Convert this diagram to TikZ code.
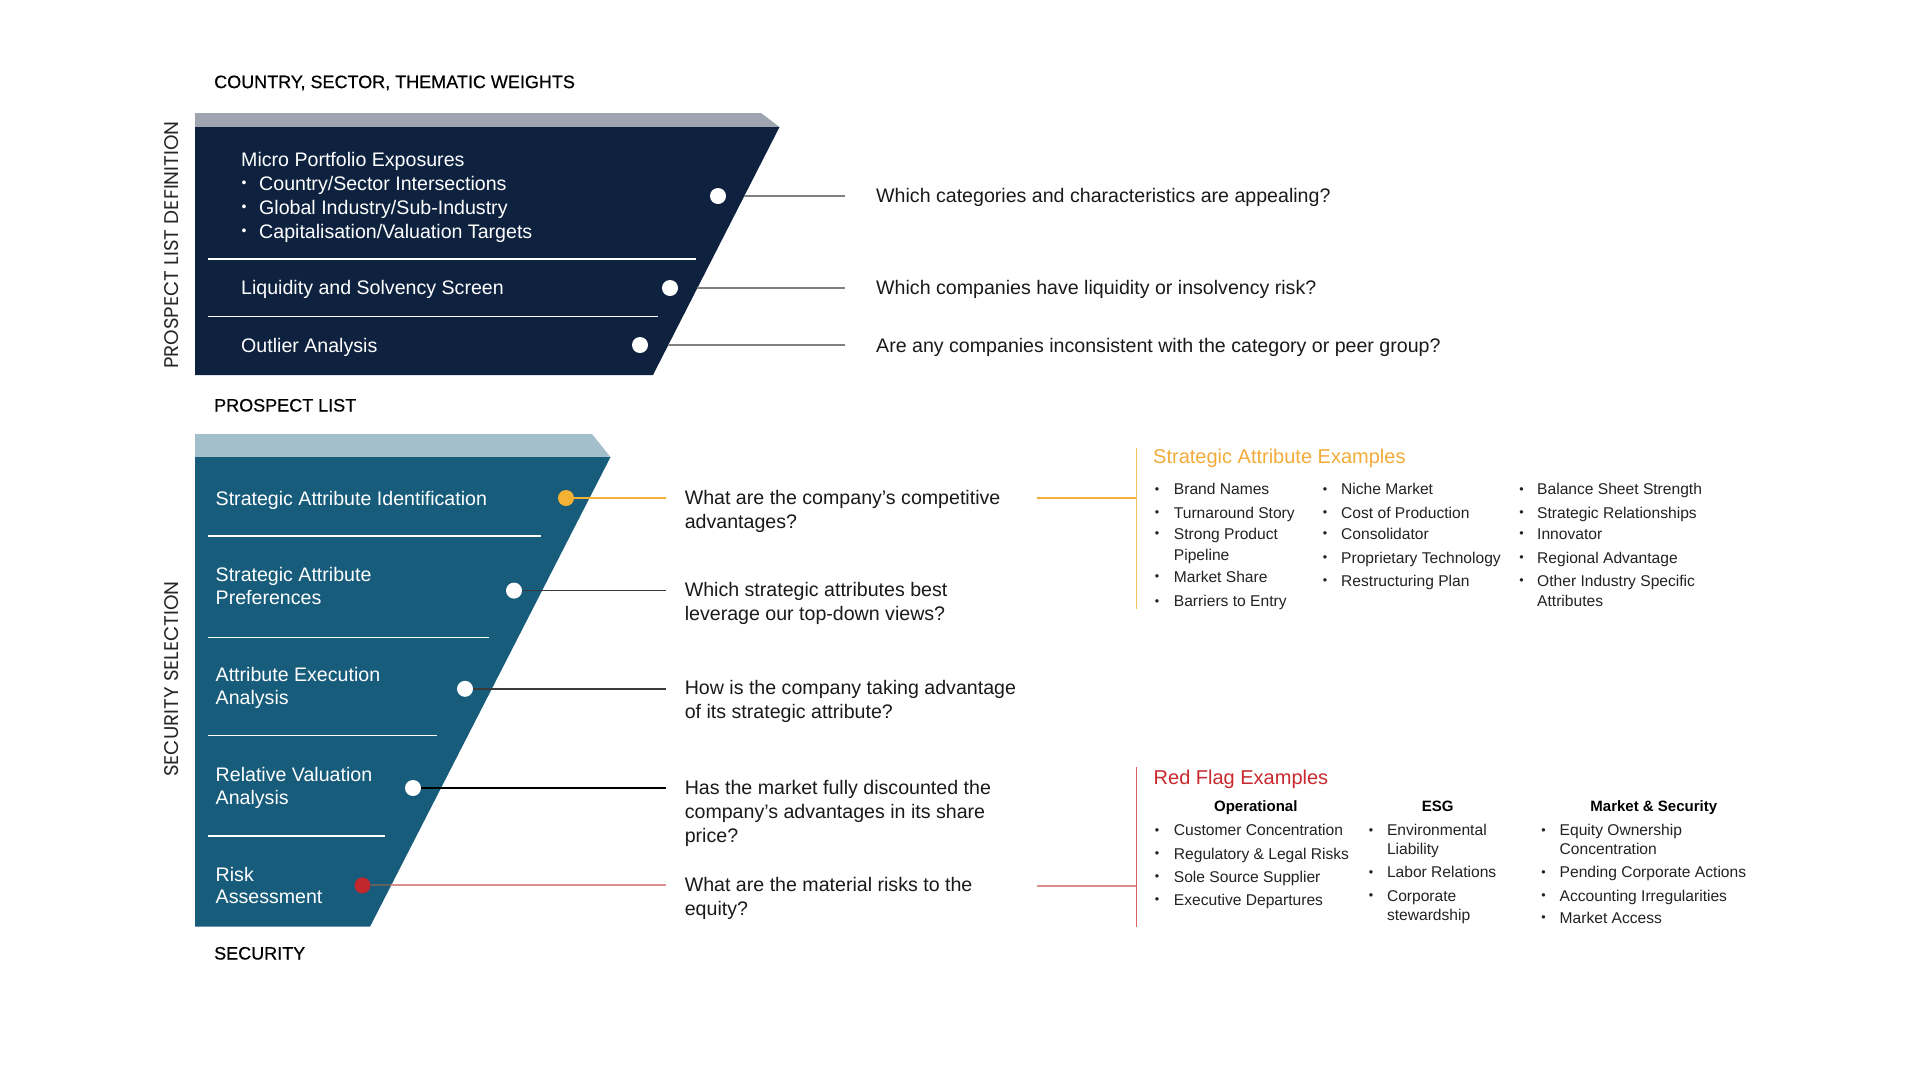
\documentclass[tikz,border=0pt]{standalone}
\usepackage{fontspec}
\setmainfont{Liberation Sans}
\newfontfamily\popfont{Poppins}
\newfontfamily\medfont[FakeBold=0.5]{Liberation Sans}
\definecolor{cNavy}{HTML}{0E2240}
\definecolor{cBandGray}{HTML}{9EA5B0}
\definecolor{cTeal}{HTML}{175C7B}
\definecolor{cBandBlue}{HTML}{A3BFCB}
\definecolor{cOrange}{HTML}{F4B133}
\definecolor{cOrangeLine}{HTML}{F7C25A}
\definecolor{cOrangeHead}{HTML}{F2AC3A}
\definecolor{cRedDot}{HTML}{C1272D}
\definecolor{cRedHead}{HTML}{C8282E}
\definecolor{cPink}{HTML}{DB8E8E}
\definecolor{cRedLine}{HTML}{D66363}
\definecolor{cGrayLine}{HTML}{808080}
\definecolor{cDarkLine}{HTML}{3A3A3A}
\definecolor{cQ}{HTML}{1A1A1A}
\definecolor{cList}{HTML}{222222}
\begin{document}
\begin{tikzpicture}[x=1pt,y=-1pt,
  q/.style={anchor=base west, inner sep=0, text=cQ, font=\fontsize{19.6}{23}\selectfont, yshift=-7pt},
  lbl/.style={anchor=base west, inner sep=0, text=white, font=\fontsize{19.6}{23}\selectfont, yshift=-7pt},
  ttl/.style={anchor=base west, inner sep=0, text=black, font=\medfont\fontsize{18}{21}\selectfont, yshift=-6.5pt},
  li/.style={anchor=base west, inner sep=0, text=cList, font=\fontsize{15.6}{18}\selectfont, yshift=-5.6pt},
  hd/.style={anchor=base, inner sep=0, text=black, font=\bfseries\fontsize{15}{18}\selectfont, yshift=-5.4pt},
  sechd/.style={anchor=base west, inner sep=0, font=\fontsize{20}{24}\selectfont, yshift=-7.2pt},
  bul/.style={anchor=center, inner sep=0, text=cList, font=\fontsize{12.5}{12.5}\selectfont},
  bulw/.style={bul, text=white, font=\fontsize{14}{14}\selectfont},
  rot/.style={rotate=90, anchor=center, inner sep=0, text=black!85, font=\popfont\fontsize{19.8}{19.8}\selectfont},
  dotw/.style={circle, fill=white, inner sep=0, minimum size=16pt},
  sepline/.style={white, line width=1.6pt},
  gline/.style={cGrayLine, line width=2pt},
  dline/.style={cDarkLine, line width=1.4pt},
]
\useasboundingbox (0,0) rectangle (1920,1080);
\fill[white] (0,0) rectangle (1920,1080);

% funnels
\fill[cBandGray] (195,113) -- (761,113) -- (779.5,127) -- (195,127) -- cycle;
\fill[cNavy] (195,127) -- (779.5,127) -- (653,375) -- (195,375) -- cycle;
\fill[cBandBlue] (195,434) -- (592,434) -- (610.5,457) -- (195,457) -- cycle;
\fill[cTeal] (195,457) -- (610.5,457) -- (370,926.7) -- (195,926.7) -- cycle;

% separators
\draw[sepline] (208,259) -- (696,259);
\draw[sepline] (208,316.5) -- (658,316.5);
\draw[sepline] (208,536) -- (541,536);
\draw[sepline] (208,637.5) -- (489,637.5);
\draw[sepline] (208,735.6) -- (437,735.6);
\draw[sepline] (208,836) -- (385,836);

% titles
\node[ttl] (t1) at (214,81.6) {COUNTRY, SECTOR, THEMATIC WEIGHTS};
\node[ttl] (t2) at (214,405) {PROSPECT LIST};
\node[ttl] (t3) at (214,953) {SECURITY};
\node[rot] (r1) at (171.5,245) {PROSPECT LIST DEFINITION};
\node[rot] (r2) at (171.5,679) {SECURITY SELECTION};

% upper funnel labels
\node[lbl] (u1) at (241,159) {Micro Portfolio Exposures};
\node[bulw] (u2b) at (244,184) {•};
\node[lbl] (u2) at (259,183) {Country/Sector Intersections};
\node[bulw] (u3b) at (244,208) {•};
\node[lbl] (u3) at (259,207) {Global Industry/Sub-Industry};
\node[bulw] (u4b) at (244,232) {•};
\node[lbl] (u4) at (259,231) {Capitalisation/Valuation Targets};
\node[lbl] (u5) at (241,287.5) {Liquidity and Solvency Screen};
\node[lbl] (u6) at (241,345.4) {Outlier Analysis};

% upper dots and lines
\node[dotw] (d1) at (718,196) {};
\node[dotw] (d2) at (670,288) {};
\node[dotw] (d3) at (640,345) {};
\coordinate (s1) at (744,196);
\coordinate (e1) at (845,196);
\coordinate (s2) at (697,288);
\coordinate (e2) at (845,288);
\coordinate (s3) at (668,345);
\coordinate (e3) at (845,345);
\draw[gline] (s1) -- (e1);
\draw[gline] (s2) -- (e2);
\draw[gline] (s3) -- (e3);

% upper questions
\node[q] (q1) at (876,195) {Which categories and characteristics are appealing?};
\node[q] (q2) at (876,287.5) {Which companies have liquidity or insolvency risk?};
\node[q] (q3) at (876,345) {Are any companies inconsistent with the category or peer group?};

% lower funnel labels
\node[lbl] (l1) at (215.5,498) {Strategic Attribute Identification};
\node[lbl] (l2a) at (215.5,574.4) {Strategic Attribute};
\node[lbl] (l2b) at (215.5,597.9) {Preferences};
\node[lbl] (l3a) at (215.5,674.3) {Attribute Execution};
\node[lbl] (l3b) at (215.5,697.7) {Analysis};
\node[lbl] (l4a) at (215.5,774) {Relative Valuation};
\node[lbl] (l4b) at (215.5,797.6) {Analysis};
\node[lbl] (l5a) at (215.5,874) {Risk};
\node[lbl] (l5b) at (215.5,896.4) {Assessment};

% lower lines and dots
\coordinate (e4) at (666,498);
\coordinate (e5) at (666,590.6);
\coordinate (e6) at (666,688.8);
\coordinate (e7) at (666,788);
\coordinate (s8) at (391,885.4);
\coordinate (e8) at (666,885.4);
\node[circle, fill=cOrange, inner sep=0, minimum size=16pt] (d4) at (566,498) {};
\node[dotw] (d5) at (514,590.6) {};
\node[dotw] (d6) at (465,688.8) {};
\node[dotw] (d7) at (413,788) {};
\node[circle, fill=cRedDot, inner sep=0, minimum size=16pt] (d8) at (362.5,885.4) {};
\draw[cOrange, line width=1.4pt] (d4) -- (e4);
\draw[dline] (d5) -- (e5);
\draw[dline] (d6) -- (e6);
\draw[black, line width=1.4pt] (d7) -- (e7);
\draw[cDarkLine!80, line width=2pt] (d8) -- (s8);
\draw[cPink, line width=2pt] (s8) -- (e8);

% lower questions
\node[q] (q4a) at (684.6,497.6) {What are the company’s competitive};
\node[q] (q4b) at (684.6,521) {advantages?};
\node[q] (q5a) at (684.6,589) {Which strategic attributes best};
\node[q] (q5b) at (684.6,613.3) {leverage our top-down views?};
\node[q] (q6a) at (684.6,687.4) {How is the company taking advantage};
\node[q] (q6b) at (684.6,711) {of its strategic attribute?};
\node[q] (q7a) at (684.6,787) {Has the market fully discounted the};
\node[q] (q7b) at (684.6,811) {company’s advantages in its share};
\node[q] (q7c) at (684.6,835.5) {price?};
\node[q] (q8a) at (684.6,884) {What are the material risks to the};
\node[q] (q8b) at (684.6,908) {equity?};

% right connectors
\coordinate (oa) at (1037,498);
\coordinate (ob) at (1136.4,498);
\coordinate (ot) at (1136.4,447.7);
\coordinate (obt) at (1136.4,609);
\draw[cOrange, line width=1.4pt] (oa) -- (ob);
\draw[cOrangeLine, line width=1.2pt] (ot) -- (obt);
\coordinate (ra) at (1037,885.7);
\coordinate (rb) at (1136.4,885.7);
\coordinate (rt) at (1136.4,767);
\coordinate (rbt) at (1136.4,926.7);
\draw[cPink, line width=2pt] (ra) -- (rb);
\draw[cRedLine, line width=1.4pt] (rt) -- (rbt);

% Strategic attribute examples
\node[sechd, text=cOrangeHead] (sa) at (1153,456) {Strategic Attribute Examples};
\node[bul] (a1b) at (1157,490.5) {•};
\node[li] (a1) at (1173.7,489.3) {Brand Names};
\node[bul] (a2b) at (1157,513.5) {•};
\node[li] (a2) at (1173.7,512.4) {Turnaround Story};
\node[bul] (a3b) at (1157,535) {•};
\node[li] (a3) at (1173.7,533.7) {Strong Product};
\node[li] (a3c) at (1173.7,554.5) {Pipeline};
\node[bul] (a4b) at (1157,578) {•};
\node[li] (a4) at (1173.7,577) {Market Share};
\node[bul] (a5b) at (1157,602.5) {•};
\node[li] (a5) at (1173.7,601.3) {Barriers to Entry};

\node[bul] (b1b) at (1325,490.5) {•};
\node[li] (b1) at (1341,489.3) {Niche Market};
\node[bul] (b2b) at (1325,513.5) {•};
\node[li] (b2) at (1341,512.4) {Cost of Production};
\node[bul] (b3b) at (1325,535) {•};
\node[li] (b3) at (1341,534) {Consolidator};
\node[bul] (b4b) at (1325,559) {•};
\node[li] (b4) at (1341,558) {Proprietary Technology};
\node[bul] (b5b) at (1325,582) {•};
\node[li] (b5) at (1341,581) {Restructuring Plan};

\node[bul] (c1b) at (1521.5,490.5) {•};
\node[li] (c1) at (1537,489.3) {Balance Sheet Strength};
\node[bul] (c2b) at (1521.5,513.5) {•};
\node[li] (c2) at (1537,512.4) {Strategic Relationships};
\node[bul] (c3b) at (1521.5,535) {•};
\node[li] (c3) at (1537,534) {Innovator};
\node[bul] (c4b) at (1521.5,559) {•};
\node[li] (c4) at (1537,558) {Regional Advantage};
\node[bul] (c5b) at (1521.5,582) {•};
\node[li] (c5) at (1537,581) {Other Industry Specific};
\node[li] (c5c) at (1537,601) {Attributes};

% Red flag examples
\node[sechd, text=cRedHead] (rf) at (1153.5,777) {Red Flag Examples};
\node[hd] (h1) at (1255.8,806) {Operational};
\node[hd] (h2) at (1437.6,806) {ESG};
\node[hd] (h3) at (1653.8,806) {Market \& Security};

\node[bul] (f1b) at (1157,831.5) {•};
\node[li] (f1) at (1173.7,830.3) {Customer Concentration};
\node[bul] (f2b) at (1157,854.5) {•};
\node[li] (f2) at (1173.7,853.4) {Regulatory \& Legal Risks};
\node[bul] (f3b) at (1157,877.5) {•};
\node[li] (f3) at (1173.7,876.4) {Sole Source Supplier};
\node[bul] (f4b) at (1157,900.5) {•};
\node[li] (f4) at (1173.7,899.5) {Executive Departures};

\node[bul] (g1b) at (1371,831.5) {•};
\node[li] (g1) at (1386.8,830.3) {Environmental};
\node[li] (g1c) at (1386.8,849) {Liability};
\node[bul] (g2b) at (1371,873.5) {•};
\node[li] (g2) at (1386.8,872.3) {Labor Relations};
\node[bul] (g3b) at (1371,896.5) {•};
\node[li] (g3) at (1386.8,895.4) {Corporate};
\node[li] (g3c) at (1386.8,914.7) {stewardship};

\node[bul] (k1b) at (1543.6,831.5) {•};
\node[li] (k1) at (1559.5,830.3) {Equity Ownership};
\node[li] (k1c) at (1559.5,849) {Concentration};
\node[bul] (k2b) at (1543.6,873.5) {•};
\node[li] (k2) at (1559.5,872.3) {Pending Corporate Actions};
\node[bul] (k3b) at (1543.6,896.5) {•};
\node[li] (k3) at (1559.5,895.4) {Accounting Irregularities};
\node[bul] (k4b) at (1543.6,919) {•};
\node[li] (k4) at (1559.5,918) {Market Access};
\end{tikzpicture}
\end{document}
